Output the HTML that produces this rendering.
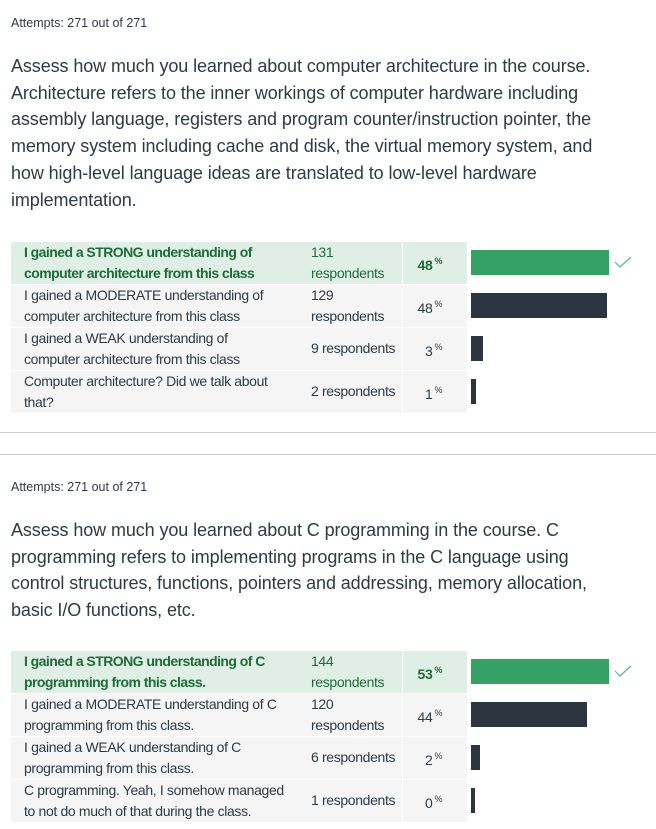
<!DOCTYPE html>
<html><head><meta charset="utf-8"><style>
body{margin:0;width:656px;height:829px;background:#fff;font-family:"Liberation Sans",sans-serif;color:#2d3b45;position:relative;overflow:hidden}
.abs{position:absolute;white-space:nowrap}
.att{font-size:12.5px;left:11px}
.q{font-size:18px;left:11px;letter-spacing:-0.1px}
.cell{position:absolute;background:#f5f5f5;font-size:14px;line-height:21px;letter-spacing:-0.35px;white-space:nowrap}
.cell.hi{background:#e0efe6;color:#1f6b3a}
.bold{font-weight:bold}
.bar{position:absolute;background:#2d3540}
.bar.hi{background:#35a165}
.hr{position:absolute;left:0;width:656px;height:1px;background:#c7cdd1}
</style></head><body>
<div class="abs att" style="top:16px">Attempts: 271 out of 271</div>
<div id="q1"></div>
<div id="t1"></div>
<div class="hr" style="top:432px"></div>
<div class="hr" style="top:454px"></div>
<div class="abs att" style="top:480px">Attempts: 271 out of 271</div>
<div id="q2"></div>
<div id="t2"></div>
<script>
const q1Lines=["Assess how much you learned about computer architecture in the course.","Architecture refers to the inner workings of computer hardware including","assembly language, registers and program counter/instruction pointer, the","memory system including cache and disk, the virtual memory system, and","how high-level language ideas are translated to low-level hardware","implementation."];
const q2Lines=["Assess how much you learned about C programming in the course. C","programming refers to implementing programs in the C language using","control structures, functions, pointers and addressing, memory allocation,","basic I/O functions, etc."];
const labels1=[["I gained a STRONG understanding of","computer architecture from this class"],["I gained a MODERATE understanding of","computer architecture from this class"],["I gained a WEAK understanding of","computer architecture from this class"],["Computer architecture? Did we talk about","that?"]];
const counts1=[131,129,9,2];
const pcts1=[48,48,3,1];
const labels2=[["I gained a STRONG understanding of C","programming from this class."],["I gained a MODERATE understanding of C","programming from this class."],["I gained a WEAK understanding of C","programming from this class."],["C programming. Yeah, I somehow managed","to not do much of that during the class."]];
const counts2=[144,120,6,1];
const pcts2=[53,44,2,0];
const correct=[0];

function question(id,lines,top){
  const c=document.getElementById(id);
  lines.forEach((t,i)=>{const d=document.createElement('div');
    
    
    d.className='abs q';d.style.top=(top+i*26.7)+'px';d.textContent=t;c.appendChild(d);});
}
function table(id,labels,counts,pcts,top){
  const c=document.getElementById(id);
  const mx=Math.max(...counts);
  labels.forEach((lab,i)=>{
    const y=top+i*43, hi=correct.includes(i)?' hi':'';
    const a=document.createElement('div');
    
    
    a.className='cell'+hi+(hi?' bold':'');a.style.cssText+=`left:11px;top:${y}px;width:277px;height:42px;padding-left:13px`;
    if(hi)a.style.letterSpacing='-0.55px';
    a.innerHTML=lab.join('<br>');c.appendChild(a);
    const r=document.createElement('div');
    
    
    r.className='cell'+hi;r.style.cssText+=`left:301px;top:${y}px;width:91px;height:42px;padding-left:10px`;
    if(counts[i]>=100){r.innerHTML=counts[i]+'<br>respondents';}
    else{r.innerHTML=counts[i]+' respondents';r.style.lineHeight='40px';}
    c.appendChild(r);
    const p=document.createElement('div');
    
    
    p.className='cell'+hi+(hi?' bold':'');p.style.cssText+=`left:403px;top:${y}px;width:64px;height:42px;line-height:38px;text-align:right`;
    p.innerHTML=pcts[i]+'<sup style="font-size:9px;vertical-align:6px"> %</sup>&nbsp;&nbsp;&nbsp;&nbsp;&nbsp;&nbsp;&nbsp;';c.appendChild(p);
    const b=document.createElement('div');
    
    
    b.className='bar'+hi;const w=3+counts[i]/mx*135;
    b.style.cssText+=`left:471px;top:${y+8}px;width:${w}px;height:25px`;c.appendChild(b);
    if(hi){const k=document.createElement('div');
      
      
      k.className='abs';k.style.cssText=`left:614px;top:${y+13}px;width:18px;height:12px`;
      k.innerHTML='<svg width="18" height="12"><polyline points="1,6 6,11 17,1" fill="none" stroke="#5fb882" stroke-width="1.2"/></svg>';
      c.appendChild(k);}
  });
}
question('q1',q1Lines,56);
table('t1',labels1,counts1,pcts1,242);
question('q2',q2Lines,520);
table('t2',labels2,counts2,pcts2,651);
</script>
</body></html>
